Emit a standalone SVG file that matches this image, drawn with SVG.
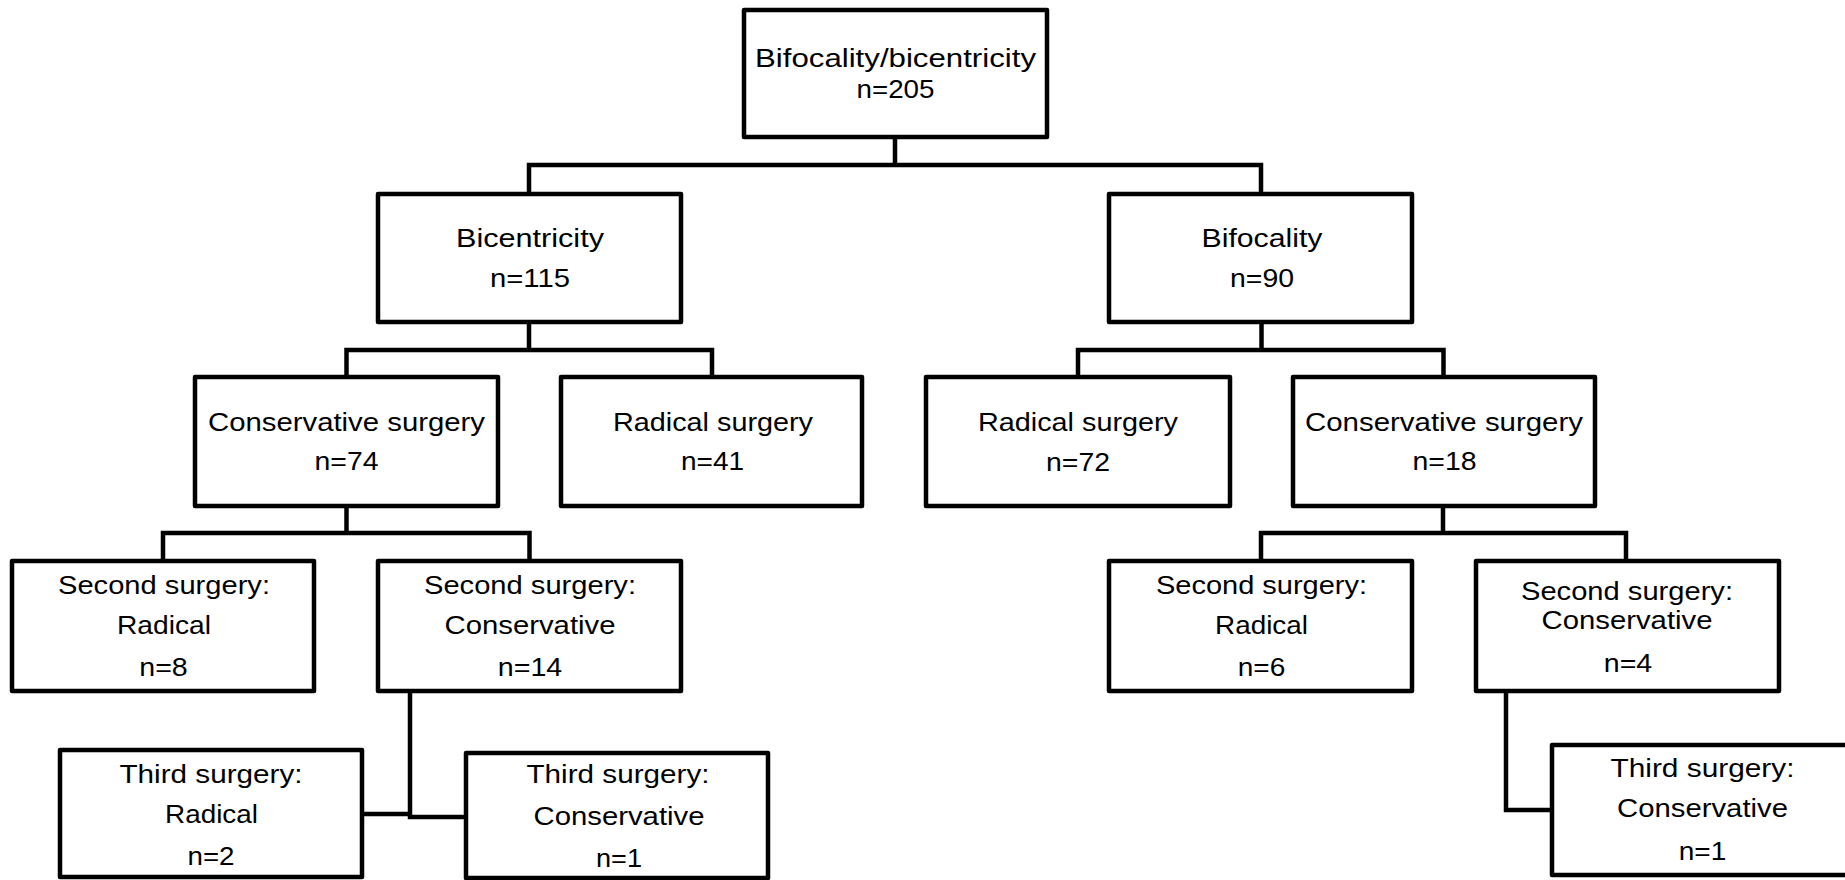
<svg xmlns="http://www.w3.org/2000/svg" width="1845" height="880" viewBox="0 0 1845 880">
<style>
.box{fill:#fff;stroke:#000;stroke-width:4.5;stroke-linejoin:round}
.conn{fill:none;stroke:#000;stroke-width:4.5;stroke-linejoin:miter}
text{font-family:"Liberation Sans",Arial,sans-serif;font-size:25px;fill:#000;text-anchor:middle}
</style>
<rect width="1845" height="880" fill="#fff"/>
<g id="connectors">
<path class="conn" d="M895 137 V165 M529 192 V165 H1261 V192"/>
<path class="conn" d="M529 322 V350 M346.5 375 V350 H712 V375"/>
<path class="conn" d="M1261.5 322 V350 M1078 375 V350 H1443.5 V375"/>
<path class="conn" d="M346.5 506 V533 M163 559 V533 H529.5 V559"/>
<path class="conn" d="M1443 506 V533 M1261 559 V533 H1626 V559"/>
<path class="conn" d="M410 691 V817 H464 M362 814 H410"/>
<path class="conn" d="M1506 691 V810 H1552"/>
</g>
<g id="n-root">
<rect class="box" x="744" y="10" width="303" height="127"/>
<text x="895.5" y="67" textLength="281" lengthAdjust="spacingAndGlyphs">Bifocality/bicentricity</text>
<text x="895.5" y="98" textLength="78" lengthAdjust="spacingAndGlyphs">n=205</text>
</g>
<g id="n-bicentricity">
<rect class="box" x="378" y="194" width="303" height="128"/>
<text x="530" y="247" textLength="148" lengthAdjust="spacingAndGlyphs">Bicentricity</text>
<text x="530" y="287" textLength="80" lengthAdjust="spacingAndGlyphs">n=115</text>
</g>
<g id="n-bifocality">
<rect class="box" x="1109" y="194" width="303" height="128"/>
<text x="1262" y="247" textLength="121" lengthAdjust="spacingAndGlyphs">Bifocality</text>
<text x="1262" y="287" textLength="64" lengthAdjust="spacingAndGlyphs">n=90</text>
</g>
<g id="n-cons-l">
<rect class="box" x="195" y="377" width="303" height="129"/>
<text x="346.5" y="431" textLength="277" lengthAdjust="spacingAndGlyphs">Conservative surgery</text>
<text x="346.5" y="470" textLength="64" lengthAdjust="spacingAndGlyphs">n=74</text>
</g>
<g id="n-rad-l">
<rect class="box" x="561" y="377" width="301" height="129"/>
<text x="713" y="431" textLength="200" lengthAdjust="spacingAndGlyphs">Radical surgery</text>
<text x="712.5" y="470" textLength="63" lengthAdjust="spacingAndGlyphs">n=41</text>
</g>
<g id="n-rad-r">
<rect class="box" x="926" y="377" width="304" height="129"/>
<text x="1078" y="431" textLength="200" lengthAdjust="spacingAndGlyphs">Radical surgery</text>
<text x="1078" y="470.5" textLength="64" lengthAdjust="spacingAndGlyphs">n=72</text>
</g>
<g id="n-cons-r">
<rect class="box" x="1293" y="377" width="302" height="129"/>
<text x="1444" y="430.5" textLength="278" lengthAdjust="spacingAndGlyphs">Conservative surgery</text>
<text x="1444.5" y="470" textLength="64" lengthAdjust="spacingAndGlyphs">n=18</text>
</g>
<g id="n-second-rad-l">
<rect class="box" x="12" y="561" width="302" height="130"/>
<text x="164" y="594" textLength="212" lengthAdjust="spacingAndGlyphs">Second surgery:</text>
<text x="164" y="633.5" textLength="94" lengthAdjust="spacingAndGlyphs">Radical</text>
<text x="163.5" y="675.5" textLength="48.5" lengthAdjust="spacingAndGlyphs">n=8</text>
</g>
<g id="n-second-cons-l">
<rect class="box" x="378" y="561" width="303" height="130"/>
<text x="530" y="594" textLength="212" lengthAdjust="spacingAndGlyphs">Second surgery:</text>
<text x="530" y="634" textLength="171" lengthAdjust="spacingAndGlyphs">Conservative</text>
<text x="530" y="676" textLength="64.5" lengthAdjust="spacingAndGlyphs">n=14</text>
</g>
<g id="n-second-rad-r">
<rect class="box" x="1109" y="561" width="303" height="130"/>
<text x="1261.5" y="594" textLength="211" lengthAdjust="spacingAndGlyphs">Second surgery:</text>
<text x="1261.5" y="634" textLength="93" lengthAdjust="spacingAndGlyphs">Radical</text>
<text x="1261.5" y="676" textLength="47.5" lengthAdjust="spacingAndGlyphs">n=6</text>
</g>
<g id="n-second-cons-r">
<rect class="box" x="1476" y="561" width="303" height="130"/>
<text x="1627" y="600" textLength="212" lengthAdjust="spacingAndGlyphs">Second surgery:</text>
<text x="1627" y="629" textLength="171" lengthAdjust="spacingAndGlyphs">Conservative</text>
<text x="1628" y="671.5" textLength="48.5" lengthAdjust="spacingAndGlyphs">n=4</text>
</g>
<g id="n-third-rad-l">
<rect class="box" x="60" y="750" width="302" height="127"/>
<text x="211" y="782.5" textLength="183" lengthAdjust="spacingAndGlyphs">Third surgery:</text>
<text x="211.5" y="823" textLength="93" lengthAdjust="spacingAndGlyphs">Radical</text>
<text x="211" y="865" textLength="47" lengthAdjust="spacingAndGlyphs">n=2</text>
</g>
<g id="n-third-cons-l">
<rect class="box" x="466" y="753" width="302" height="125"/>
<text x="618" y="783" textLength="183" lengthAdjust="spacingAndGlyphs">Third surgery:</text>
<text x="619" y="825" textLength="171" lengthAdjust="spacingAndGlyphs">Conservative</text>
<text x="619" y="866.5" textLength="46" lengthAdjust="spacingAndGlyphs">n=1</text>
</g>
<g id="n-third-cons-r">
<rect class="box" x="1552" y="745" width="302" height="130"/>
<text x="1702.5" y="777" textLength="184" lengthAdjust="spacingAndGlyphs">Third surgery:</text>
<text x="1702.5" y="817" textLength="171" lengthAdjust="spacingAndGlyphs">Conservative</text>
<text x="1702.5" y="860" textLength="47.5" lengthAdjust="spacingAndGlyphs">n=1</text>
</g>
</svg>
